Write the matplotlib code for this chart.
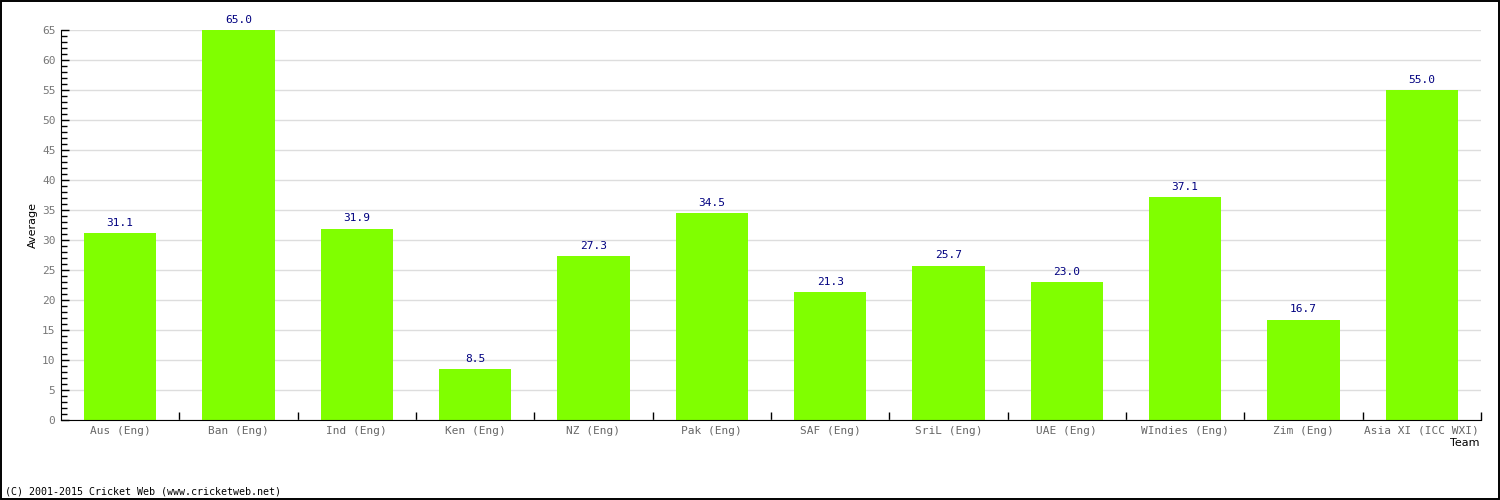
import matplotlib.pyplot as plt
from matplotlib.ticker import MultipleLocator, FixedLocator
from matplotlib.patches import Rectangle
import numpy as np

teams = ['Aus (Eng)', 'Ban (Eng)', 'Ind (Eng)', 'Ken (Eng)', 'NZ (Eng)', 'Pak (Eng)',
         'SAF (Eng)', 'SriL (Eng)', 'UAE (Eng)', 'WIndies (Eng)', 'Zim (Eng)',
         'Asia XI (ICC WXI)']
averages = [31.1, 65.0, 31.9, 8.5, 27.3, 34.5, 21.3, 25.7, 23.0, 37.1, 16.7, 55.0]

plt.rcParams['font.family'] = 'DejaVu Sans Mono'

fig = plt.figure(figsize=(15, 5), dpi=100)
ax = fig.add_axes([61/1500, 0.16, 1420/1500, 0.78])

x = np.arange(len(teams))
bars = ax.bar(x, averages, width=0.61, color='#80ff00', zorder=2)

ax.set_xlim(-0.5, len(teams) - 0.5)
ax.set_ylim(0, 65)

# grid + ticks
ax.yaxis.set_major_locator(MultipleLocator(5))
ax.yaxis.set_minor_locator(MultipleLocator(1))
ax.grid(axis='y', which='major', color='#dddddd', linewidth=1, zorder=0)
ax.tick_params(axis='y', which='major', direction='in', length=6, width=1,
               labelsize=8, labelcolor='#777777', pad=4)
ax.tick_params(axis='y', which='minor', direction='in', length=4, width=1)

ax.set_xticks(x)
ax.set_xticklabels(teams)
ax.xaxis.set_minor_locator(FixedLocator(np.arange(0.5, len(teams), 1.0)))
ax.tick_params(axis='x', which='major', length=0, labelsize=8, labelcolor='#666666', pad=4)
ax.tick_params(axis='x', which='minor', direction='in', length=6, width=1)

for s in ['top', 'right']:
    ax.spines[s].set_visible(False)

# value labels
for b, v in zip(bars, averages):
    ax.text(b.get_x() + b.get_width()/2, v + 0.9, f'{v:.1f}',
            ha='center', va='bottom', fontsize=8, color='#000080')

ax.set_ylabel('Average', fontsize=8, labelpad=3, family='DejaVu Sans')
fig.text(1479/1500, 1 - 443/500, 'Team', ha='right', va='center', fontsize=8,
         family='DejaVu Sans')
fig.text(5/1500, 1 - 492/500, '(C) 2001-2015 Cricket Web (www.cricketweb.net)',
         ha='left', va='center', fontsize=7.2)

# outer frame
fig.patches.append(Rectangle((0.0007, 0.002), 0.9986, 0.996, transform=fig.transFigure,
                             fill=False, edgecolor='black', linewidth=1.4))

fig.savefig('out.png', dpi=100)
